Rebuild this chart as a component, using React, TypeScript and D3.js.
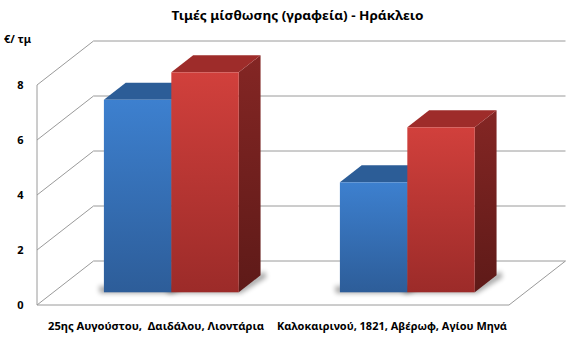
import React from "react";
import * as d3 from "d3";

const categories = [
  "25ης Αυγούστου,  Δαιδάλου, Λιοντάρια",
  "Καλοκαιρινού, 1821, Αβέρωφ, Αγίου Μηνά",
];
const seriesNames = ["Σειρά 1", "Σειρά 2"];
const series1 = [7, 4];
const series2 = [8, 6];
const yTicks = [0, 2, 4, 6, 8];
const title = "Τιμές μίσθωσης (γραφεία) - Ηράκλειο";
const yUnit = "€/ τμ";

const W = 572;
const H = 342;
const DX = 56.5;
const DY = -44;
const T1 = 0.289;
const T2 = 0.675;
const FONT = "'Noto Sans', 'DejaVu Sans', sans-serif";

const palettes = [
  { frontTop: "#3d80cf", frontBot: "#2d5d99", top: "#2c5d97", sideTop: "#26528a", sideBot: "#1d3f6b" },
  { frontTop: "#d1403c", frontBot: "#9c2b29", top: "#9e2c2a", sideTop: "#842624", sideBot: "#5e1a18" },
];

export default function App() {
  const x0 = d3.scaleBand<string>().domain(categories).range([37, 509]).paddingInner(0).paddingOuter(0);
  const x1 = d3
    .scaleBand<string>()
    .domain(seriesNames)
    .range([0, x0.bandwidth()])
    .paddingInner(0)
    .paddingOuter(0.75);
  const y = d3.scaleLinear().domain([0, 8]).range([305, 85]);
  const values = [series1, series2];

  const xL = 37;
  const xR = 509;
  const y0 = y(0);
  const yTop = y(8);
  const grid = "#9a9a9a";

  const bars: any[] = [];
  categories.forEach((c, ci) => {
    seriesNames.forEach((s, si) => {
      const v = values[si][ci];
      const bx = (x0(c) as number) + (x1(s) as number) + T1 * DX;
      const bw = x1.bandwidth();
      const by = y(v) + T1 * DY;
      const bb = y0 + T1 * DY;
      const ddx = (T2 - T1) * DX;
      const ddy = (T2 - T1) * DY;
      bars.push({ key: `${ci}-${si}`, si, bx, bw, by, bb, ddx, ddy });
    });
  });

  return (
    <svg width={W} height={H} style={{ display: "block", position: "absolute", left: 0, top: 0 }}>
      <defs>
        {palettes.map((p, i) => (
          <React.Fragment key={i}>
            <linearGradient id={`front${i}`} x1="0" y1="0" x2="0" y2="1">
              <stop offset="0" stopColor={p.frontTop} />
              <stop offset="1" stopColor={p.frontBot} />
            </linearGradient>
            <linearGradient id={`side${i}`} x1="0" y1="0" x2="0" y2="1">
              <stop offset="0" stopColor={p.sideTop} />
              <stop offset="1" stopColor={p.sideBot} />
            </linearGradient>
          </React.Fragment>
        ))}
        <filter id="shadowBlur" x="-50%" y="-50%" width="200%" height="200%">
          <feGaussianBlur stdDeviation="2.5" />
        </filter>
      </defs>
      <rect width={W} height={H} fill="#ffffff" />

      {/* title */}
      <text
        x={297.5}
        y={20}
        textAnchor="middle"
        fontFamily={FONT}
        fontWeight="bold"
        fontSize={11.5}
        textLength={252}
        lengthAdjust="spacingAndGlyphs"
        fill="#000"
      >
        {title}
      </text>
      <text x={4} y={43} fontFamily={FONT} fontWeight="bold" fontSize={11} textLength={27} lengthAdjust="spacingAndGlyphs" fill="#000">
        {yUnit}
      </text>

      {/* walls & gridlines */}
      <g stroke={grid} strokeWidth={1} fill="none">
        {yTicks.map((t) => (
          <g key={t}>
            <line x1={xL} y1={y(t)} x2={xL + DX} y2={y(t) + DY} />
            <line x1={xL + DX} y1={y(t) + DY} x2={xR + DX} y2={y(t) + DY} />
          </g>
        ))}
        <line x1={xL} y1={y0} x2={xL} y2={yTop} />
        <line x1={xL} y1={y0} x2={xR} y2={y0} />
        <line x1={xR} y1={y0} x2={xR + DX} y2={y0 + DY} />
      </g>

      {/* y tick labels */}
      {yTicks.map((t) => (
        <text
          key={t}
          x={20.5}
          y={y(t)}
          dy="0.36em"
          textAnchor="middle"
          fontFamily={FONT}
          fontWeight="bold"
          fontSize={11}
          fill="#000"
        >
          {t}
        </text>
      ))}

      {/* shadows */}
      {bars.map((b) => (
        <path
          key={"sh" + b.key}
          d={`M${b.bx - 5},${b.bb - 6} L${b.bx + b.bw},${b.bb - 6} L${b.bx + b.bw + b.ddx + 4},${b.bb + b.ddy - 4} L${b.bx + b.bw + b.ddx + 6},${b.bb + b.ddy + 2} L${b.bx + b.bw + 2},${b.bb + 1} L${b.bx - 4},${b.bb + 1} Z`}
          fill="#000"
          opacity={0.35}
          filter="url(#shadowBlur)"
        />
      ))}

      {/* bars */}
      {bars.map((b) => (
        <g key={b.key}>
          <path
            d={`M${b.bx + b.bw},${b.by} L${b.bx + b.bw + b.ddx},${b.by + b.ddy} L${b.bx + b.bw + b.ddx},${b.bb + b.ddy} L${b.bx + b.bw},${b.bb} Z`}
            fill={`url(#side${b.si})`}
          />
          <path
            d={`M${b.bx},${b.by} L${b.bx + b.ddx},${b.by + b.ddy} L${b.bx + b.bw + b.ddx},${b.by + b.ddy} L${b.bx + b.bw},${b.by} Z`}
            fill={palettes[b.si].top}
          />
          <rect x={b.bx} y={b.by} width={b.bw} height={b.bb - b.by} fill={`url(#front${b.si})`} />
        </g>
      ))}

      {/* category labels */}
      {categories.map((c, i) => {
        const widths = [216, 230];
        return (
          <text
            key={c}
            x={(x0(c) as number) + x0.bandwidth() / 2 + 1}
            y={330}
            textAnchor="middle"
            fontFamily={FONT}
            fontWeight="bold"
            fontSize={10.5}
            textLength={widths[i]}
            lengthAdjust="spacingAndGlyphs"
            style={{ whiteSpace: "pre" }}
            fill="#000"
          >
            {c}
          </text>
        );
      })}
    </svg>
  );
}
